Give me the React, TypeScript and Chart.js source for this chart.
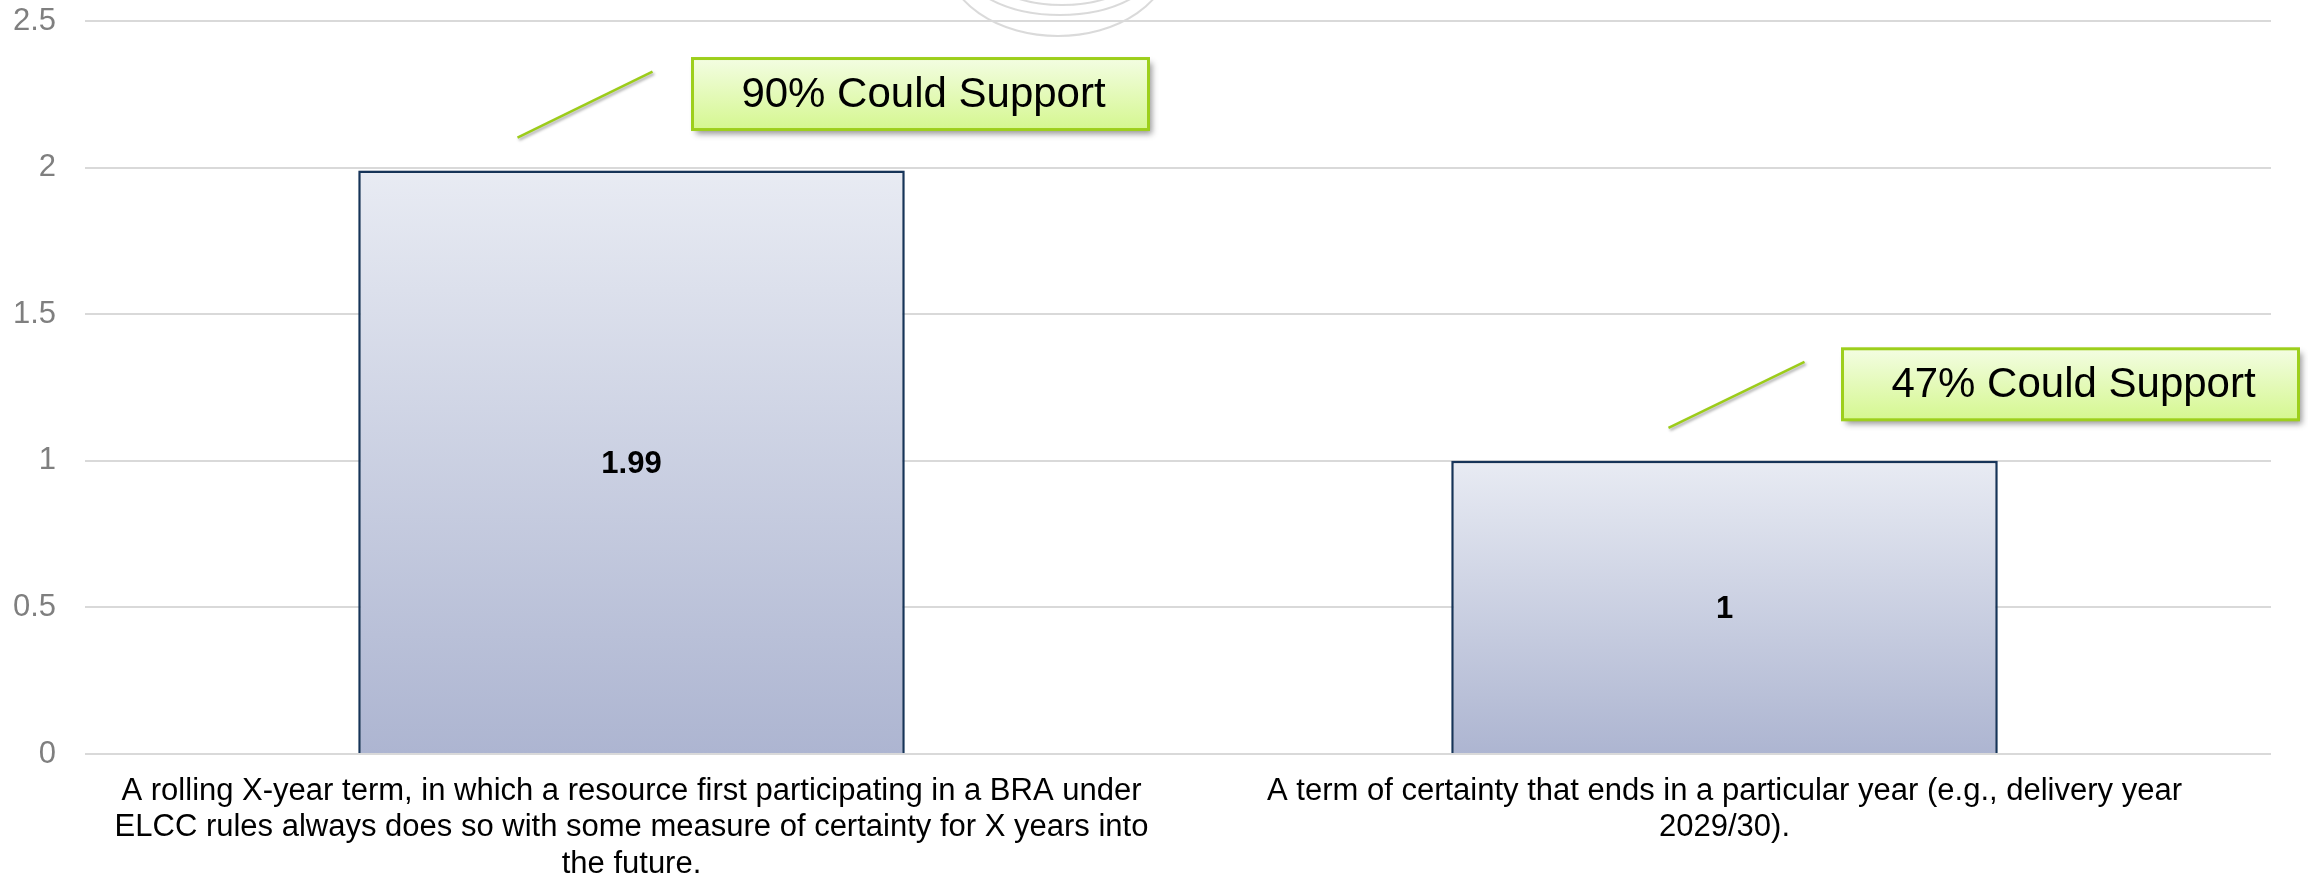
import React, { useEffect, useRef } from 'react';
import { Chart, registerables } from 'chart.js';

Chart.register(...registerables);

// ---- data ----
const categories: string[][] = [
  [
    'A rolling X-year term, in which a resource first participating in a BRA under',
    'ELCC rules always does so with some measure of certainty for X years into',
    'the future.',
  ],
  ['A term of certainty that ends in a particular year (e.g., delivery year', '2029/30).'],
];
const values: number[] = [1.99, 1];
const valueLabels: string[] = ['1.99', '1'];
const supportLabels: string[] = ['90% Could Support', '47% Could Support'];
const yMin = 0;
const yMax = 2.5;
const yStep = 0.5;

// ---- callout layout (pixel offsets relative to each bar) ----
const calloutBoxDx: number[] = [61, 118];
const calloutLineDx0: number[] = [-114, -56];
const calloutLineDx1: number[] = [21, 80];

const FONT = "'Liberation Sans', Arial, Helvetica, sans-serif";

const decorPlugin = {
  id: 'decor',
  beforeDraw(chart: any) {
    const ctx = chart.ctx;
    ctx.save();
    ctx.fillStyle = '#ffffff';
    ctx.fillRect(0, 0, chart.width, chart.height);
    // faint watermark arcs at the top
    ctx.strokeStyle = 'rgba(205,205,205,0.75)';
    ctx.lineWidth = 2;
    const arcs = [
      [1058, -42, 112, 78],
      [1060, -40, 100, 55],
      [1062, -40, 85, 45],
    ];
    arcs.forEach(([cx, cy, rx, ry]) => {
      ctx.beginPath();
      ctx.ellipse(cx, cy, rx, ry, 0, 0, Math.PI);
      ctx.stroke();
    });
    ctx.restore();
  },
  beforeDatasetsDraw(chart: any) {
    const ctx = chart.ctx;
    ctx.save();
    ctx.shadowColor = 'rgba(0,0,0,0.22)';
    ctx.shadowBlur = 4;
    ctx.shadowOffsetX = 0;
    ctx.shadowOffsetY = 0;
  },
  afterDatasetsDraw(chart: any) {
    const ctx = chart.ctx;
    ctx.restore();
    const meta = chart.getDatasetMeta(0);
    meta.data.forEach((bar: any, i: number) => {
      const { x, y, base } = bar.getProps(['x', 'y', 'base'], true);
      // value label inside bar
      ctx.save();
      ctx.font = `bold 31px ${FONT}`;
      ctx.fillStyle = '#000000';
      ctx.textAlign = 'center';
      ctx.textBaseline = 'middle';
      ctx.fillText(valueLabels[i], x, (y + base) / 2 + 3);
      ctx.restore();

      // connector line
      ctx.save();
      ctx.shadowColor = 'rgba(0,0,0,0.35)';
      ctx.shadowBlur = 3;
      ctx.shadowOffsetX = 1.5;
      ctx.shadowOffsetY = 2;
      ctx.strokeStyle = '#9ccc1a';
      ctx.lineWidth = 2.5;
      ctx.beginPath();
      ctx.moveTo(x + calloutLineDx0[i], y - 33);
      ctx.lineTo(x + calloutLineDx1[i], y - 99);
      ctx.stroke();
      ctx.restore();

      // callout box
      const bx = x + calloutBoxDx[i];
      const by = y - 112;
      const bw = 456;
      const bh = 71;
      ctx.save();
      const g = ctx.createLinearGradient(0, by, 0, by + bh);
      g.addColorStop(0, '#f3fde2');
      g.addColorStop(1, '#d5f790');
      ctx.shadowColor = 'rgba(0,0,0,0.4)';
      ctx.shadowBlur = 6;
      ctx.shadowOffsetX = 3;
      ctx.shadowOffsetY = 4;
      ctx.fillStyle = g;
      ctx.fillRect(bx, by, bw, bh);
      ctx.shadowColor = 'transparent';
      ctx.strokeStyle = '#9dcf1c';
      ctx.lineWidth = 3;
      ctx.strokeRect(bx, by, bw, bh);
      ctx.font = `42px ${FONT}`;
      ctx.fillStyle = '#000000';
      ctx.textAlign = 'center';
      ctx.textBaseline = 'middle';
      ctx.fillText(supportLabels[i], bx + bw / 2 + 3, by + bh / 2 + 1);
      ctx.restore();
    });
  },
};

export default function App() {
  const canvasRef = useRef<HTMLCanvasElement | null>(null);

  useEffect(() => {
    document.body.style.margin = '0';
    const canvas = canvasRef.current;
    if (!canvas) return;
    const chart = new Chart(canvas, {
      type: 'bar',
      data: {
        labels: categories as any,
        datasets: [
          {
            data: values,
            backgroundColor: (c: any) => {
              const ch = c.chart;
              const ys = ch.scales && ch.scales.y;
              if (!ys || c.dataIndex === undefined) return '#c9cfe1';
              const top = ys.getPixelForValue(values[c.dataIndex]);
              const bot = ys.getPixelForValue(0);
              if (!isFinite(top) || !isFinite(bot) || top === bot) return '#c9cfe1';
              const g = ch.ctx.createLinearGradient(0, top, 0, bot);
              g.addColorStop(0, '#e8ebf3');
              g.addColorStop(1, '#adb5d1');
              return g;
            },
            borderColor: '#17375e',
            borderWidth: 2.5,
            barPercentage: 0.5,
            categoryPercentage: 1.0,
          },
        ],
      },
      options: {
        responsive: false,
        animation: false,
        devicePixelRatio: 1,
        layout: { padding: { top: 21, right: 37, bottom: 0, left: 0 } },
        plugins: {
          legend: { display: false },
          tooltip: { enabled: false },
          title: { display: false },
        },
        scales: {
          x: {
            grid: { display: false },
            border: { display: false },
            ticks: {
              color: '#000000',
              font: { family: FONT, size: 31, lineHeight: 1.18 },
              padding: 11,
              maxRotation: 0,
              minRotation: 0,
              autoSkip: false,
            },
            afterFit: (scale: any) => {
              scale.height = 124;
            },
          },
          y: {
            min: yMin,
            max: yMax,
            grid: { color: '#d9d9d9', lineWidth: 2, drawTicks: false },
            border: { display: false },
            ticks: {
              stepSize: yStep,
              color: '#7f7f7f',
              font: { family: FONT, size: 31 },
              padding: 29,
              callback: (v: any) => String(Number(v)),
            },
            afterFit: (scale: any) => {
              scale.width = 85;
              scale.paddingTop = 0;
              scale.paddingBottom = 0;
            },
          },
        },
      },
      plugins: [decorPlugin],
    });
    return () => chart.destroy();
  }, []);

  return (
    <div style={{ width: 2308, height: 878 }}>
      <canvas ref={canvasRef} width={2308} height={878} style={{ display: 'block' }} />
    </div>
  );
}
